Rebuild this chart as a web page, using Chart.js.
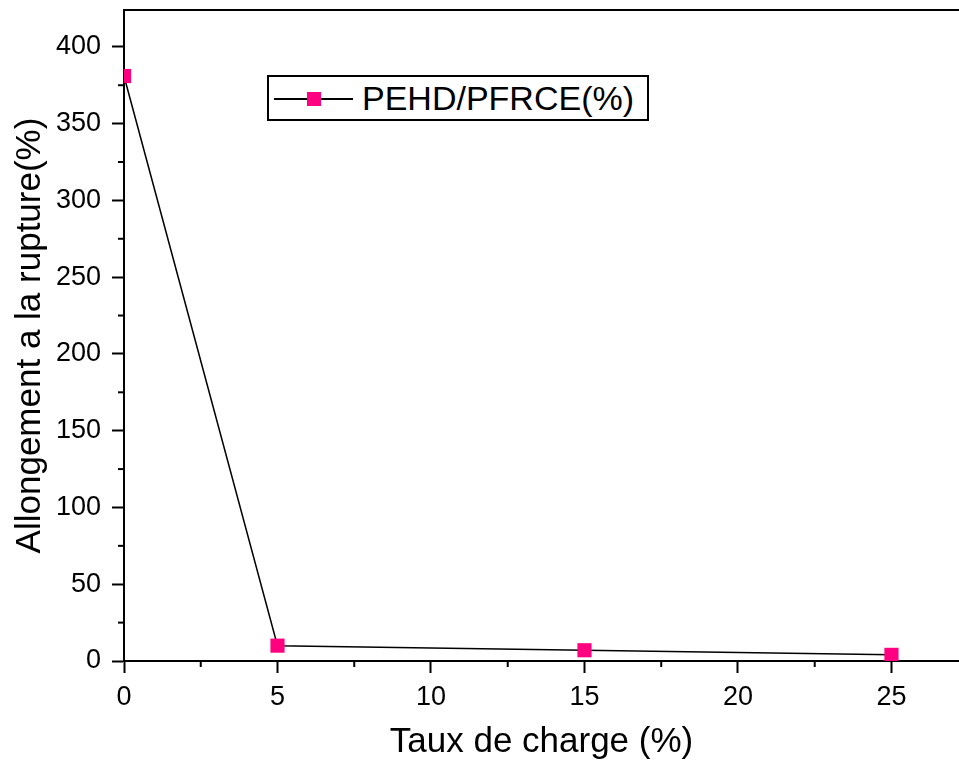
<!DOCTYPE html>
<html>
<head>
<meta charset="utf-8">
<script src="https://cdn.jsdelivr.net/npm/chart.js@4"></script>
<style>
  body { margin: 0; background: #fff; overflow: hidden; }
  #wrap { position: relative; width: 959px; height: 765px; }
  #chart { display: block; }
  #legend {
    position: absolute; left: 267px; top: 75px; width: 378px; height: 42px;
    border: 2px solid #000; background: #fff;
    font-family: "Liberation Sans", Arial, sans-serif; font-size: 34px; color: #000;
  }
  #legend .line { position: absolute; left: 5px; top: 21px; width: 79px; height: 1.5px; background: #000; }
  #legend .mark { position: absolute; left: 38px; top: 15px; width: 14px; height: 14px; }
  #legend .txt { position: absolute; left: 93px; top: 2px; line-height: 38px; white-space: nowrap; }
</style>
</head>
<body>
<div id="wrap">
  <canvas id="chart" width="959" height="765"></canvas>
  <div id="legend"><div class="line"></div><div class="mark"></div><div class="txt"></div></div>
</div>
<script>
const seriesLabel = 'PEHD/PFRCE(%)';
const tauxCharge = [0, 5, 15, 25];
const allongement = [381, 10, 7, 4];
const xTitle = 'Taux de charge (%)';
const yTitle = 'Allongement a la rupture(%)';

const PINK = '#ff0080';
const FONT = '"Liberation Sans", Arial, sans-serif';

// legend in html
document.querySelector('#legend .txt').textContent = seriesLabel;
document.querySelector('#legend .mark').style.background = PINK;

// short ticks between the labelled ones
const minorTicks = {
  id: 'minorTicks',
  afterDraw(chart) {
    const c = chart.ctx;
    const area = chart.chartArea;
    c.save();
    c.strokeStyle = '#000';
    c.lineWidth = 2;
    const xs = chart.scales.x;
    xs.ticks.forEach(t => {
      if (t.value % 5 !== 0) {
        const px = xs.getPixelForValue(t.value);
        c.beginPath(); c.moveTo(px, area.bottom); c.lineTo(px, area.bottom + 6); c.stroke();
      }
    });
    const ys = chart.scales.y;
    ys.ticks.forEach(t => {
      if (t.value % 50 !== 0) {
        const py = ys.getPixelForValue(t.value);
        c.beginPath(); c.moveTo(area.left, py); c.lineTo(area.left - 6, py); c.stroke();
      }
    });
    // top frame line
    c.beginPath(); c.moveTo(area.left - 1, area.top); c.lineTo(chart.width, area.top); c.stroke();
    c.restore();
  }
};

const ctx = document.getElementById('chart').getContext('2d');
new Chart(ctx, {
  type: 'line',
  data: {
    datasets: [{
      label: seriesLabel,
      data: tauxCharge.map((x, i) => ({ x: x, y: allongement[i] })),
      borderColor: '#000',
      borderWidth: 1.5,
      pointStyle: 'rect',
      pointRadius: 10,
      pointBackgroundColor: PINK,
      pointBorderColor: PINK,
      pointBorderWidth: 0,
      tension: 0
    }]
  },
  options: {
    responsive: false,
    animation: false,
    devicePixelRatio: 1,
    layout: { autoPadding: false, padding: { top: 10, right: 0, left: 0, bottom: 0 } },
    plugins: { legend: { display: false }, tooltip: { enabled: false } },
    scales: {
      x: {
        type: 'linear',
        min: 0,
        max: 27.2,
        afterFit: s => { s.height = 104; s.paddingLeft = 0; s.paddingRight = 0; },
        border: { display: true, color: '#000', width: 2 },
        grid: {
          drawOnChartArea: false,
          tickLength: 12,
          tickWidth: 2,
          tickColor: c => (c.tick && c.tick.value % 5 === 0) ? '#000' : 'rgba(0,0,0,0)'
        },
        ticks: {
          stepSize: 2.5,
          includeBounds: false,
          autoSkip: false,
          maxRotation: 0,
          padding: 8,
          color: '#000',
          font: { family: FONT, size: 27 },
          callback: v => v % 5 === 0 ? v : ''
        },
        title: {
          display: true,
          text: xTitle,
          color: '#000',
          font: { family: FONT, size: 35 },
          padding: { top: 0, bottom: 2 }
        }
      },
      y: {
        min: 0,
        max: 424,
        afterFit: s => { s.width = 124; s.paddingTop = 0; s.paddingBottom = 0; },
        border: { display: true, color: '#000', width: 2 },
        grid: {
          drawOnChartArea: false,
          tickLength: 12,
          tickWidth: 2,
          tickColor: c => (c.tick && c.tick.value % 50 === 0) ? '#000' : 'rgba(0,0,0,0)'
        },
        ticks: {
          stepSize: 25,
          includeBounds: false,
          autoSkip: false,
          padding: 11,
          color: '#000',
          font: { family: FONT, size: 27 },
          callback: v => v % 50 === 0 ? v : ''
        },
        title: {
          display: true,
          text: yTitle,
          color: '#000',
          font: { family: FONT, size: 35 },
          padding: { top: 9, bottom: 0 }
        }
      }
    }
  },
  plugins: [minorTicks]
});
</script>
</body>
</html>
